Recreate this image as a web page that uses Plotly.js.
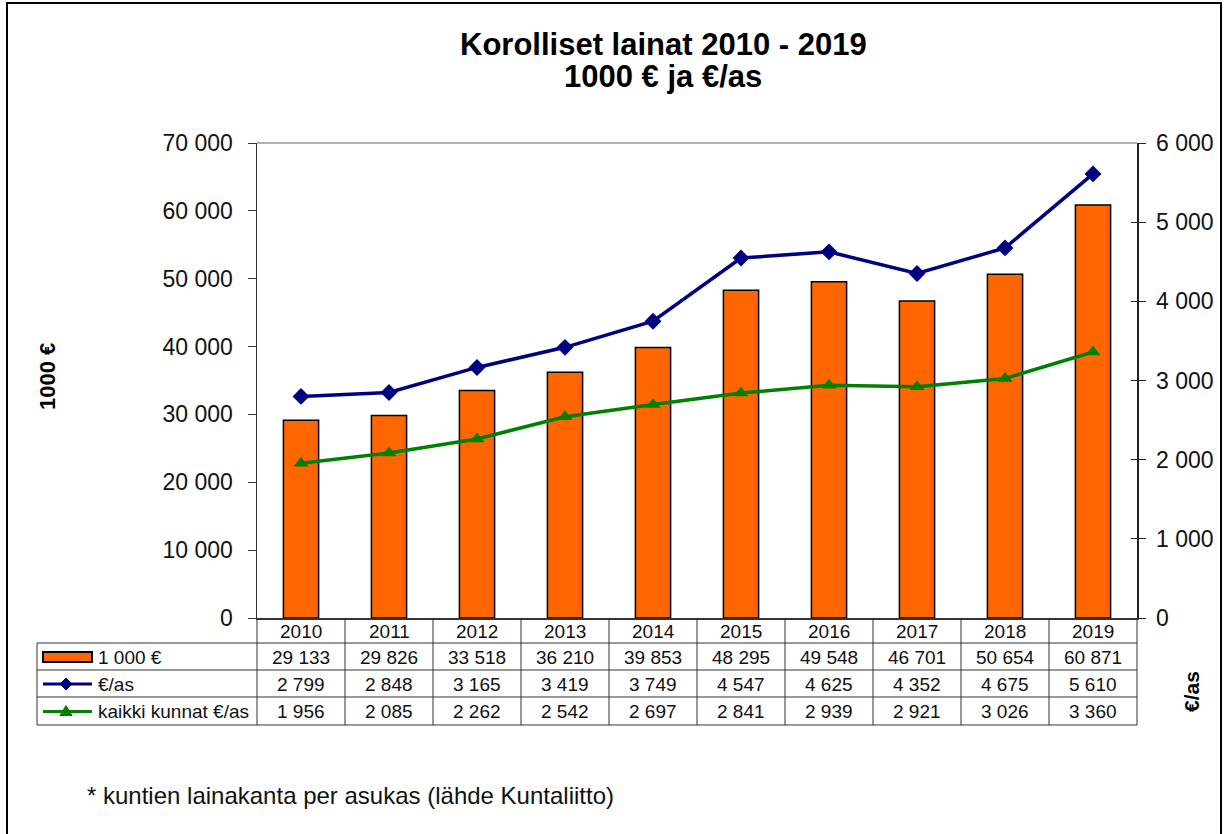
<!DOCTYPE html>
<html>
<head>
<meta charset="utf-8">
<script src="https://cdn.plot.ly/plotly-3.0.1.min.js"></script>
<style>html,body{margin:0;padding:0;background:#fff;}#chart{width:1224px;height:834px;}</style>
</head>
<body>
<div id="chart"></div>
<script>
// ---- data ----
const years = ['2010','2011','2012','2013','2014','2015','2016','2017','2018','2019'];
const loans = [29133, 29826, 33518, 36210, 39853, 48295, 49548, 46701, 50654, 60871];
const perCapita = [2799, 2848, 3165, 3419, 3749, 4547, 4625, 4352, 4675, 5610];
const allMunicipalities = [1956, 2085, 2262, 2542, 2697, 2841, 2939, 2921, 3026, 3360];
const seriesNames = ['1 000 €', '€/as', 'kaikki kunnat €/as'];
const leftTicks = [0, 10000, 20000, 30000, 40000, 50000, 60000, 70000];
const rightTicks = [0, 1000, 2000, 3000, 4000, 5000, 6000];
const titleLines = ['Korolliset lainat 2010 - 2019', '1000 € ja €/as'];
const leftTitle = '1000 €';
const rightTitle = '€/as';
const footnote = '* kuntien lainakanta per asukas (lähde Kuntaliitto)';

// ---- helpers ----
const fmt = n => String(n).replace(/\B(?=(\d{3})+(?!\d))/g, ' ');
const W = 1224, H = 834;
const PL = 257, PR = 1137, PT = 143, PB = 618;
const PW = PR - PL, PH = PB - PT;
const px = x => (x - PL) / PW;
const py = y => (PB - y) / PH;
const FONT = 'Liberation Sans, Arial, sans-serif';

// table geometry (pixels)
const rowLines = [618, 643, 670, 697, 725];
const rowCenters = [631, 657, 684, 711.5];
const tableLeft = 37;

const traces = [
  {type:'bar', x: years, y: loans, name: seriesNames[0], width: 0.4,
   marker:{color:'#FF6600', line:{color:'#000', width:1.5}}, yaxis:'y', hoverinfo:'skip'},
  {type:'scatter', mode:'lines+markers', x: years, y: perCapita, name: seriesNames[1], yaxis:'y2',
   line:{color:'#000080', width:3.5}, marker:{symbol:'diamond', size:13, color:'#000080'}, hoverinfo:'skip'},
  {type:'scatter', mode:'lines+markers', x: years, y: allMunicipalities, name: seriesNames[2], yaxis:'y2',
   line:{color:'#008000', width:3.5}, marker:{symbol:'triangle-up', size:13, color:'#008000'}, hoverinfo:'skip'}
];

const shapes = [];
const annotations = [];
const line = (x0,y0,x1,y1,color,width) => shapes.push({type:'line', xref:'paper', yref:'paper',
  x0:px(x0), y0:py(y0), x1:px(x1), y1:py(y1), line:{color:color||'#333', width:width||1}});

// outer frame
shapes.push({type:'rect', xref:'paper', yref:'paper', x0:px(7), x1:px(1221), y0:py(3), y1:py(850),
  line:{color:'#000', width:2}, fillcolor:'rgba(0,0,0,0)'});
// plot top border
line(PL, PT, PR, PT, '#999', 1.5);

// table lines
for (let i = 1; i < rowLines.length; i++) line(tableLeft, rowLines[i], PR, rowLines[i], '#333', 1);
line(tableLeft, rowLines[1], tableLeft, rowLines[4], '#333', 1);
for (let k = 0; k <= years.length; k++) {
  const xx = PL + PW * k / years.length;
  line(xx, rowLines[0], xx, rowLines[4], '#333', 1);
}

// table text
const cellFont = {family: FONT, size: 19, color: '#111'};
const rows = [loans, perCapita, allMunicipalities];
years.forEach((yr, i) => {
  const cx = (i + 0.5) / years.length;
  annotations.push({xref:'paper', yref:'paper', x: cx, y: py(rowCenters[0]), text: yr, showarrow:false,
    font: cellFont, xanchor:'center', yanchor:'middle'});
  rows.forEach((r, j) => {
    annotations.push({xref:'paper', yref:'paper', x: cx, y: py(rowCenters[j+1]), text: fmt(r[i]), showarrow:false,
      font: cellFont, xanchor:'center', yanchor:'middle'});
  });
});
// legend keys in table
const keyX0 = 43, keyX1 = 92, keyMid = 66;
shapes.push({type:'rect', xref:'paper', yref:'paper', x0:px(keyX0), x1:px(keyX1),
  y0:py(rowCenters[1]-5), y1:py(rowCenters[1]+5), fillcolor:'#FF6600', line:{color:'#000', width:2}});
line(keyX0, rowCenters[2], keyX1, rowCenters[2], '#000080', 3);
line(keyX0, rowCenters[3], keyX1, rowCenters[3], '#008000', 3);
const d = 6;
const c2 = rowCenters[2];
shapes.push({type:'path', xref:'paper', yref:'paper', fillcolor:'#000080', line:{color:'#000080', width:1},
  path:`M ${px(keyMid-d)} ${py(c2)} L ${px(keyMid)} ${py(c2-d)} L ${px(keyMid+d)} ${py(c2)} L ${px(keyMid)} ${py(c2+d)} Z`});
const c3 = rowCenters[3];
shapes.push({type:'path', xref:'paper', yref:'paper', fillcolor:'#008000', line:{color:'#008000', width:1},
  path:`M ${px(keyMid-6)} ${py(c3+4)} L ${px(keyMid)} ${py(c3-6)} L ${px(keyMid+6)} ${py(c3+4)} Z`});
seriesNames.forEach((nm, j) => {
  annotations.push({xref:'paper', yref:'paper', x: px(96), y: py(rowCenters[j+1]), text: nm, showarrow:false,
    font: cellFont, xanchor:'left', yanchor:'middle'});
});

// titles
annotations.push({xref:'paper', yref:'paper', x: px(663), y: py(45), text:'<b>'+titleLines[0]+'</b>',
  showarrow:false, font:{family:FONT, size:31, color:'#000'}, xanchor:'center', yanchor:'middle'});
annotations.push({xref:'paper', yref:'paper', x: px(663), y: py(77), text:'<b>'+titleLines[1]+'</b>',
  showarrow:false, font:{family:FONT, size:31, color:'#000'}, xanchor:'center', yanchor:'middle'});
annotations.push({xref:'paper', yref:'paper', x: px(47), y: py(377), text:'<b>'+leftTitle+'</b>', textangle:-90,
  showarrow:false, font:{family:FONT, size:22, color:'#000'}, xanchor:'center', yanchor:'middle'});
annotations.push({xref:'paper', yref:'paper', x: px(1191), y: py(692), text:'<b>'+rightTitle+'</b>', textangle:-90,
  showarrow:false, font:{family:FONT, size:21, color:'#000'}, xanchor:'center', yanchor:'middle'});
annotations.push({xref:'paper', yref:'paper', x: px(85), y: py(795), text: footnote,
  showarrow:false, font:{family:FONT, size:24, color:'#111'}, xanchor:'left', yanchor:'middle'});

const tickFont = {family: FONT, size: 23, color: '#111'};
const layout = {
  width: W, height: H, autosize: false,
  margin: {l: PL, r: W - PR, t: PT, b: H - PB, pad: 0},
  paper_bgcolor: '#fff', plot_bgcolor: '#fff',
  showlegend: false, bargap: 0.6,
  xaxis: {type:'category', range:[-0.5, years.length - 0.5], showticklabels:false, ticks:'',
    showline:true, linecolor:'#333', linewidth:1.5, showgrid:false, zeroline:false, fixedrange:true},
  yaxis: {range:[0, 70000], tickvals:leftTicks, ticktext:leftTicks.map(fmt), ticks:'outside', ticklen:8,
    tickcolor:'#333', showline:true, linecolor:'#333', linewidth:1.5, showgrid:false, zeroline:false,
    tickfont: tickFont, ticklabelstandoff: 10, fixedrange:true},
  yaxis2: {range:[0, 6000], overlaying:'y', side:'right', tickvals:rightTicks, ticktext:rightTicks.map(fmt),
    ticks:'outside', ticklen:7, tickcolor:'#222', showline:true, linecolor:'#222', linewidth:1.5,
    showgrid:false, zeroline:false, tickfont: tickFont, ticklabelstandoff: 6, fixedrange:true},
  yaxis3: {range:[0, 6000], overlaying:'y', side:'right', tickvals:rightTicks, ticks:'inside', ticklen:6,
    tickcolor:'#222', showticklabels:false, showline:false, showgrid:false, zeroline:false, fixedrange:true},
  shapes: shapes,
  annotations: annotations
};
// invisible trace that activates the inner-tick axis
traces.push({type:'scatter', x:[years[0]], y:[0], yaxis:'y3', mode:'markers', marker:{opacity:0}, hoverinfo:'skip'});

Plotly.newPlot('chart', traces, layout, {displayModeBar:false, staticPlot:true});
</script>
</body>
</html>
